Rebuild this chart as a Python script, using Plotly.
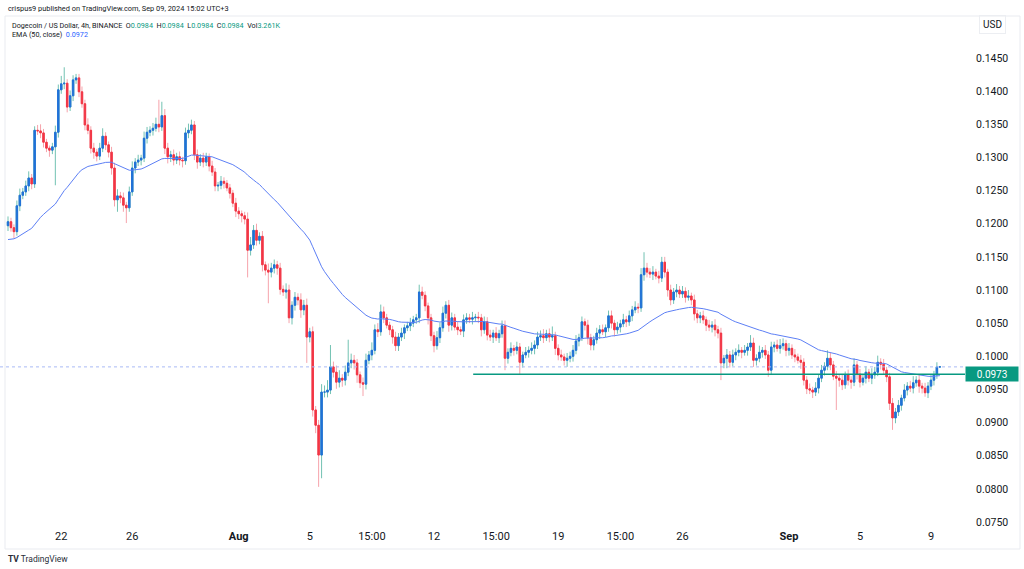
import numpy as np
import pandas as pd
import plotly.graph_objects as go

# ---------------- data (DOGE/USD 4h, prices in units of 0.0001) ----------------
START = "2024-07-19 03:00"
FIRST_OPEN_U = 1197

close_u = [
    1203, 1194, 1188, 1227, 1243, 1248,   # Jul 19
    1257, 1269, 1260, 1341, 1340, 1337,   # Jul 20
    1323, 1314, 1311, 1316, 1338, 1402,   # Jul 21
    1411, 1412, 1376, 1393, 1417, 1420,   # Jul 22
    1399, 1381, 1349, 1341, 1314, 1308,   # Jul 23
    1302, 1314, 1332, 1319, 1308, 1284,   # Jul 24
    1236, 1242, 1239, 1228, 1224, 1248,   # Jul 25
    1284, 1293, 1296, 1299, 1329, 1338,   # Jul 26
    1341, 1344, 1350, 1346, 1363, 1314,   # Jul 27
    1301, 1304, 1296, 1301, 1296, 1295,   # Jul 28
    1337, 1341, 1349, 1304, 1293, 1299,   # Jul 29
    1293, 1301, 1287, 1278, 1257, 1258,   # Jul 30
    1264, 1261, 1254, 1246, 1231, 1219,   # Jul 31
    1215, 1212, 1207, 1160, 1168, 1190,   # Aug 1
    1175, 1181, 1138, 1130, 1127, 1133,   # Aug 2
    1138, 1133, 1101, 1097, 1100, 1058,   # Aug 3
    1077, 1089, 1085, 1070, 1077, 1029,   # Aug 4
    1037, 919, 896, 851, 946, 946,        # Aug 5
    949, 984, 976, 961, 967, 964,         # Aug 6
    976, 990, 994, 990, 972, 960,         # Aug 7
    958, 994, 1002, 1009, 1040, 1037,     # Aug 8
    1067, 1058, 1047, 1040, 1029, 1016,   # Aug 9
    1029, 1035, 1043, 1046, 1050, 1055,   # Aug 10
    1058, 1097, 1092, 1076, 1058, 1031,   # Aug 11
    1016, 1028, 1043, 1065, 1077, 1047,   # Aug 12
    1058, 1044, 1040, 1038, 1055, 1058,   # Aug 13
    1056, 1058, 1059, 1058, 1040, 1052,   # Aug 14
    1032, 1029, 1035, 1028, 1034, 1046,   # Aug 15
    997, 1006, 1012, 1009, 1014, 991,     # Aug 16
    1002, 1006, 1009, 1012, 1017, 1029,   # Aug 17
    1031, 1028, 1034, 1029, 1031, 1012,   # Aug 18
    1002, 999, 994, 997, 1000, 1009,      # Aug 19
    1023, 1028, 1052, 1047, 1028, 1017,   # Aug 20
    1025, 1035, 1040, 1037, 1043, 1061,   # Aug 21
    1050, 1040, 1044, 1049, 1055, 1052,   # Aug 22
    1061, 1070, 1074, 1073, 1123, 1133,   # Aug 23
    1127, 1124, 1127, 1121, 1118, 1142,   # Aug 24
    1127, 1100, 1085, 1097, 1100, 1094,   # Aug 25
    1098, 1089, 1091, 1085, 1064, 1058,   # Aug 26
    1061, 1055, 1047, 1044, 1047, 1040,   # Aug 27
    1035, 990, 997, 1002, 991, 1002,      # Aug 28
    1006, 1009, 1006, 1009, 1014, 1020,   # Aug 29
    994, 997, 1006, 1009, 1002, 979,      # Aug 30
    1014, 1017, 1012, 1016, 1019, 1009,   # Aug 31
    1012, 1002, 999, 994, 991, 964,       # Sep 1
    951, 949, 946, 952, 967, 979,         # Sep 2
    985, 997, 987, 970, 967, 964,         # Sep 3
    957, 972, 964, 961, 987, 973,         # Sep 4
    961, 967, 976, 967, 972, 976,         # Sep 5
    991, 988, 979, 969, 929, 907,         # Sep 6
    916, 926, 937, 949, 955, 952,         # Sep 7
    960, 964, 955, 952, 945, 955,         # Sep 8
    964, 972, 984, 984,                   # Sep 9
]

upper_wick_u = [
    8, 6, 5, 8, 10, 6,  8, 10, 6, 6, 8, 10,  6, 5, 4, 6, 10, 8,  12, 24, 6, 8, 7, 6,
    6, 8, 6, 10, 6, 8,  5, 8, 12, 6, 5, 8,  8, 10, 6, 8, 5, 8,  10, 6, 8, 5, 10, 8,
    6, 8, 10, 37, 21, 10,  8, 6, 8, 6, 8, 5,  8, 10, 8, 6, 8, 6,  8, 6, 5, 8, 6, 5,
    8, 6, 5, 6, 5, 8,  6, 5, 6, 10, 12, 8,  10, 6, 8, 5, 10, 8,  8, 6, 8, 6, 10, 8,
    6, 8, 6, 10, 8, 10,  6, 8, 6, 8, 12, 10,  15, 33, 8, 10, 12, 6,  10, 35, 10, 8, 6, 5,
    8, 10, 6, 12, 8, 10,  11, 8, 6, 5, 6, 8,  6, 8, 5, 6, 8, 6,  6, 11, 8, 6, 5, 6,
    6, 10, 8, 10, 6, 8,  8, 6, 9, 5, 8, 7,  6, 9, 5, 8, 6, 8,  7, 8, 5, 9, 6, 8,
    8, 6, 9, 5, 8, 6,  5, 8, 6, 9, 7, 8,  8, 10, 6, 8, 14, 6,  6, 8, 5, 8, 7, 8,
    9, 6, 8, 5, 8, 6,  6, 8, 7, 8, 5, 8,  8, 5, 8, 6, 9, 6,  8, 6, 9, 6, 10, 24,
    8, 6, 9, 5, 8, 8,  8, 5, 8, 6, 9, 6,  8, 6, 9, 5, 8, 6,  6, 8, 5, 8, 6, 9,
    6, 8, 5, 9, 6, 8,  6, 9, 5, 8, 6, 12,  8, 6, 10, 5, 8, 6,  8, 5, 8, 10, 8, 6,
    8, 6, 9, 5, 8, 6,  6, 8, 5, 9, 6, 8,  6, 12, 8, 6, 8, 6,  8, 5, 8, 6, 10, 6,
    8, 6, 9, 5, 10, 8,  10, 6, 8, 5, 6, 8,  6, 8, 5, 9, 6, 8,  10, 6, 8, 5, 8, 6,
    8, 6, 7, 0,
]

lower_wick_u = [
    8, 6, 10, 6, 8, 6,  6, 8, 8, 6, 6, 8,  8, 6, 10, 6, 58, 8,  6, 8, 8, 6, 8, 6,
    8, 6, 8, 6, 8, 10,  8, 6, 6, 8, 8, 10,  10, 18, 8, 10, 23, 6,  6, 8, 6, 8, 6, 8,
    6, 8, 5, 8, 6, 9,  10, 8, 8, 6, 8, 10,  6, 8, 6, 8, 10, 6,  8, 6, 8, 6, 8, 8,
    6, 8, 5, 8, 6, 9,  8, 10, 8, 41, 8, 6,  8, 6, 10, 8, 47, 8,  8, 10, 8, 6, 10, 8,
    10, 8, 8, 12, 8, 39,  8, 10, 12, 48, 35, 8,  8, 6, 8, 10, 8, 10,  8, 6, 8, 10, 12, 8,
    18, 8, 6, 8, 6, 8,  6, 8, 5, 8, 10, 8,  8, 6, 9, 5, 8, 6,  6, 8, 6, 8, 10, 8,
    10, 6, 8, 6, 8, 10,  8, 5, 8, 6, 9, 6,  6, 8, 5, 8, 10, 6,  8, 6, 9, 5, 8, 6,
    18, 8, 6, 8, 6, 19,  8, 5, 8, 6, 9, 6,  6, 8, 5, 8, 6, 10,  8, 6, 8, 10, 6, 8,
    6, 8, 5, 8, 10, 8,  8, 6, 9, 5, 8, 6,  8, 10, 6, 8, 5, 8,  6, 8, 5, 8, 6, 9,
    8, 6, 9, 5, 8, 6,  8, 10, 8, 6, 8, 6,  6, 8, 5, 8, 10, 8,  8, 6, 9, 6, 8, 10,
    8, 26, 8, 15, 8, 6,  8, 6, 9, 5, 8, 6,  10, 8, 6, 8, 6, 10,  6, 8, 5, 8, 6, 9,
    8, 6, 8, 5, 10, 8,  8, 6, 9, 6, 8, 6,  8, 6, 8, 6, 48, 10,  8, 6, 8, 10, 6, 8,
    8, 5, 8, 6, 9, 6,  6, 8, 6, 8, 10, 18,  8, 6, 8, 5, 8, 6,  8, 6, 10, 8, 6, 8,
    6, 8, 6, 0,
]

EMA_LEN = 50
EMA_SEED = 0.1175          # EMA value at the left edge of the view
LEVEL = 0.0973             # drawn horizontal support line
LEVEL_START = "2024-08-14 08:00"
LAST_PRICE = 0.0984

tick_vals = ["2024-07-22 03:00", "2024-07-26 03:00", "2024-08-01 03:00", "2024-08-05 03:00",
             "2024-08-08 15:00", "2024-08-12 03:00", "2024-08-15 15:00", "2024-08-19 03:00",
             "2024-08-22 15:00", "2024-08-26 03:00", "2024-09-01 03:00", "2024-09-05 03:00",
             "2024-09-09 03:00"]
tick_text = ["22", "26", "<b>Aug</b>", "5", "15:00", "12", "15:00", "19", "15:00", "26",
             "<b>Sep</b>", "5", "9"]
price_ticks = [0.0750, 0.0800, 0.0850, 0.0900, 0.0950, 0.1000, 0.1050, 0.1100,
               0.1150, 0.1200, 0.1250, 0.1300, 0.1350, 0.1400, 0.1450]
X_RANGE = ["2024-07-18 16:10", "2024-09-11 01:00"]
Y_RANGE = [0.074095, 0.151337]

# ---------------- derived series ----------------
times = pd.date_range(START, periods=len(close_u), freq="4h")
close = np.array(close_u) / 1e4
open_ = np.concatenate([[FIRST_OPEN_U / 1e4], close[:-1]])
high = np.maximum(open_, close) + np.array(upper_wick_u) / 1e4
low = np.minimum(open_, close) - np.array(lower_wick_u) / 1e4
body_hi = np.maximum(open_, close)
body_lo = np.minimum(open_, close)

alpha = 2 / (EMA_LEN + 1)
ema = []
prev = EMA_SEED
for c in close:
    prev = alpha * c + (1 - alpha) * prev
    ema.append(prev)

# ---------------- styling ----------------
FONT = "Roboto, 'Noto Sans', sans-serif"
TXT = "#131722"
TEAL = "#089981"
UP_BODY, UP_WICK = "#2171d8", "#72c2b2"
DN_BODY, DN_WICK = "#f23645", "#f6a3ab"
W, H = 1024, 569
PL, PR, PT, PB = 0, 965, 16, 528   # plot area in pixels


def px(x):
    return (x - PL) / (PR - PL)


def py(y):
    return (PB - y) / (PB - PT)


fig = go.Figure()

# wicks
fig.add_trace(go.Candlestick(
    x=times, open=open_, high=high, low=low, close=close,
    increasing=dict(line=dict(color=UP_WICK, width=1), fillcolor=UP_WICK),
    decreasing=dict(line=dict(color=DN_WICK, width=1), fillcolor=DN_WICK),
    hoverinfo="skip", showlegend=False,
))
# bodies
fig.add_trace(go.Candlestick(
    x=times, open=open_, high=body_hi, low=body_lo, close=close,
    increasing=dict(line=dict(color=UP_BODY, width=1), fillcolor=UP_BODY),
    decreasing=dict(line=dict(color=DN_BODY, width=1), fillcolor=DN_BODY),
    hoverinfo="skip", showlegend=False,
))
# EMA
fig.add_trace(go.Scatter(
    x=times, y=ema, mode="lines", line=dict(color="#5d7ff5", width=1),
    hoverinfo="skip", showlegend=False,
))

shapes = [
    dict(type="line", xref="x", yref="y", x0=X_RANGE[0], x1=X_RANGE[1],
         y0=LAST_PRICE, y1=LAST_PRICE, line=dict(color="#a9bbf5", width=1, dash="dot")),
    dict(type="line", xref="x", yref="y", x0=LEVEL_START, x1=X_RANGE[1],
         y0=LEVEL, y1=LEVEL, line=dict(color=TEAL, width=1.5)),
    dict(type="rect", xref="paper", yref="paper", x0=px(5), x1=px(1020),
         y0=py(549), y1=py(16), line=dict(color="#e9ebf0", width=1), layer="below"),
]

val = lambda s: f"<span style='color:{TEAL}'>{s}</span>"
sp = "\u00a0\u00a0"
header2 = ("Dogecoin / US Dollar, 4h, BINANCE" + sp + "O" + val("0.0984") + sp + "H" + val("0.0984")
           + sp + "L" + val("0.0984") + sp + "C" + val("0.0984") + sp + "Vol" + val("3.261K"))
header3 = "EMA (50, close)" + sp + "<span style='color:#2962ff'>0.0972</span>"

annotations = [
    dict(text="crispus9 published on TradingView.com, Sep 09, 2024 15:02 UTC+3",
         x=px(6), y=py(8), xref="paper", yref="paper", xanchor="left", yanchor="middle",
         showarrow=False, font=dict(family=FONT, size=7.4, color=TXT)),
    dict(text=header2, x=px(10), y=py(25), xref="paper", yref="paper", xanchor="left",
         yanchor="middle", showarrow=False, font=dict(family=FONT, size=7.2, color=TXT)),
    dict(text=header3, x=px(10), y=py(34), xref="paper", yref="paper", xanchor="left",
         yanchor="middle", showarrow=False, font=dict(family=FONT, size=7.2, color=TXT)),
    dict(text="USD", x=px(992), y=py(24), xref="paper", yref="paper", xanchor="center",
         yanchor="middle", showarrow=False, font=dict(family=FONT, size=10, color=TXT),
         bordercolor="#eceef2", borderwidth=1, borderpad=3),
    dict(text=f"{LEVEL:.4f}", x=1, y=LEVEL, xref="paper", yref="y", xanchor="left",
         yanchor="middle", showarrow=False, bgcolor=TEAL, width=50, height=12,
         font=dict(family=FONT, size=10, color="white")),
    dict(text="<b>TV</b> TradingView", x=px(6), y=py(559), xref="paper", yref="paper",
         xanchor="left", yanchor="middle", showarrow=False,
         font=dict(family=FONT, size=8.5, color="#2a2e39")),
]

fig.update_layout(
    width=W, height=H,
    margin=dict(l=PL, r=W - PR, t=PT, b=H - PB, pad=0),
    paper_bgcolor="white", plot_bgcolor="white",
    font=dict(family=FONT, color=TXT),
    showlegend=False, hovermode=False, dragmode=False,
    shapes=shapes, annotations=annotations,
    xaxis=dict(type="date", range=X_RANGE, rangeslider=dict(visible=False),
               tickmode="array", tickvals=tick_vals, ticktext=tick_text,
               showgrid=False, zeroline=False, showline=False, ticks="",
               tickfont=dict(family=FONT, size=11, color=TXT)),
    yaxis=dict(side="right", range=Y_RANGE, tickmode="array", tickvals=price_ticks,
               tickformat=".4f", showgrid=False, zeroline=False, showline=False,
               ticks="", ticklabelstandoff=10,
               tickfont=dict(family=FONT, size=10.5, color=TXT)),
)

fig.write_html("out.html", config={"displayModeBar": False, "staticPlot": True},
               post_script="document.body.style.margin='0';document.body.style.overflow='hidden';")
